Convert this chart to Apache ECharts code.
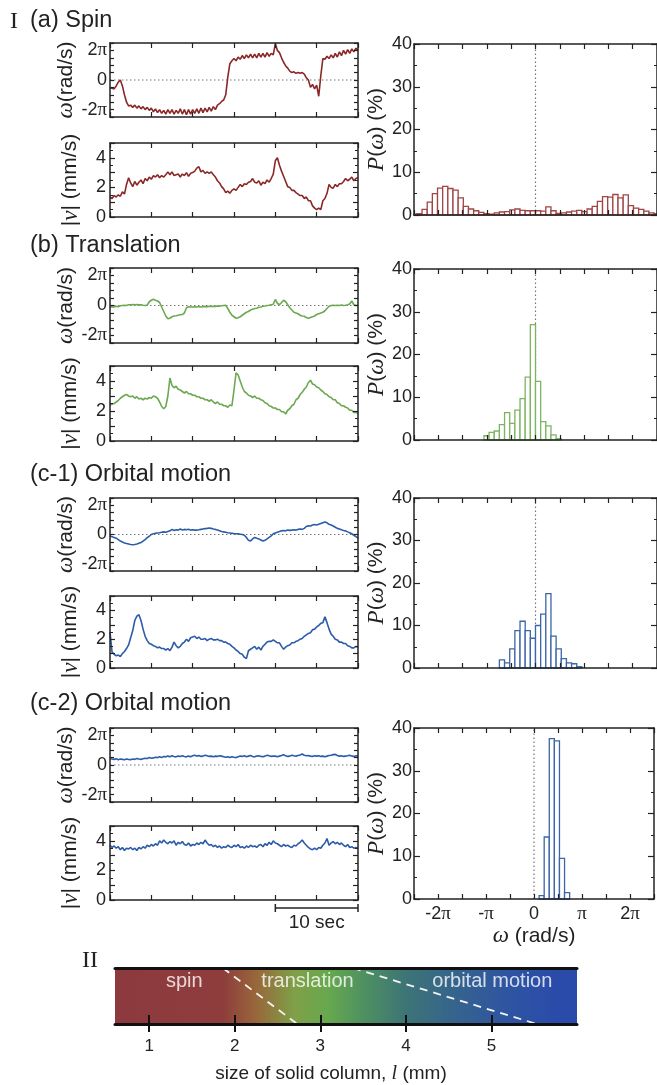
<!DOCTYPE html>
<html><head><meta charset="utf-8">
<script src="https://cdn.jsdelivr.net/npm/echarts@6/dist/echarts.min.js"></script>
<style>html,body{margin:0;padding:0;background:#fff}#c{width:657px;height:1085px}</style>
</head><body><div id="c"></div>
<script>
// ---------------- DATA ----------------
const DT = 0.25; // sampling step of the time traces (s)
// angular velocity traces, in units of pi rad/s
const spinOmega = [
 -0.53,-0.55,-0.6,-0.4,-0.15,0.0,-0.4,-1.0,-1.5,-1.75,
 -1.7,-1.85,-1.7,-1.9,-1.75,-1.95,-1.8,-2.0,-1.85,-2.05,
 -1.9,-2.15,-1.95,-2.2,-2.0,-2.25,-2.05,-2.3,-2.0,-2.25,
 -2.0,-2.3,-2.05,-2.25,-1.95,-2.3,-2.0,-2.35,-2.0,-2.3,
 -2.0,-2.25,-1.95,-2.25,-1.9,-2.2,-1.9,-2.15,-1.85,-2.1,
 -1.8,-2.0,-1.7,-1.6,-1.45,-1.35,-1.0,0.2,1.1,1.3,
 1.45,1.3,1.55,1.4,1.65,1.45,1.7,1.5,1.75,1.5,
 1.75,1.5,1.8,1.55,1.8,1.55,1.85,1.6,1.8,1.7,
 2.45,2.0,1.85,1.5,1.2,0.95,0.8,0.6,0.5,0.55,
 0.45,0.5,0.45,0.5,0.4,0.15,0.0,-0.5,-0.3,-0.6,
 -0.35,-1.1,0.3,1.45,1.4,1.6,1.45,1.7,1.5,1.8,
 1.55,1.9,1.65,2.0,1.75,2.05,1.8,2.1,1.9,2.15,
 2.0];
const spinSpeed = [
 1.35,1.25,1.45,1.35,1.5,1.4,1.7,1.55,2.2,2.65,
 2.3,2.05,2.4,2.15,2.35,2.5,2.25,2.6,2.45,2.7,
 2.55,2.8,2.7,2.85,2.65,2.8,2.7,2.85,3.05,2.85,
 3.05,2.8,2.85,2.9,2.7,2.9,2.8,3.0,2.75,2.95,
 3.0,3.1,3.3,3.4,3.05,3.15,2.95,3.05,2.95,3.05,
 2.85,2.7,2.45,2.3,2.05,1.9,1.65,1.75,1.6,1.8,
 1.9,1.8,2.0,2.2,2.05,2.25,2.2,2.35,2.4,2.6,
 2.35,2.3,2.45,2.15,2.35,2.25,2.5,2.35,2.6,2.9,
 3.8,4.0,3.5,3.1,2.75,2.4,2.05,2.0,1.8,1.8,
 1.65,1.55,1.45,1.45,1.25,1.35,1.1,1.1,0.75,0.6,
 0.5,0.6,0.5,1.1,1.25,1.6,2.2,2.0,1.95,2.2,
 2.05,2.25,2.25,2.4,2.6,2.45,2.55,2.7,2.45,2.6,
 2.65];
const translationOmega = [
 -0.1,-0.08,-0.1,-0.05,-0.08,-0.02,0.0,0.02,0.0,0.05,
 0.05,0.07,0.05,0.06,0.04,0.05,0.02,0.0,0.03,0.25,
 0.35,0.42,0.35,0.3,0.2,-0.1,-0.4,-0.7,-0.88,-0.85,
 -0.75,-0.7,-0.68,-0.65,-0.62,-0.6,-0.5,-0.15,-0.08,-0.1,
 -0.1,-0.08,-0.1,-0.07,-0.1,-0.08,-0.06,-0.09,-0.05,-0.07,
 -0.05,-0.06,-0.04,-0.05,-0.02,0.0,0.02,-0.2,-0.45,-0.65,
 -0.75,-0.85,-0.82,-0.75,-0.65,-0.55,-0.45,-0.4,-0.3,-0.25,
 -0.2,-0.18,-0.12,-0.1,-0.05,-0.03,0.0,0.02,0.05,0.08,
 0.4,0.15,0.05,0.2,0.35,0.25,0.05,-0.15,-0.3,-0.45,
 -0.5,-0.55,-0.65,-0.7,-0.72,-0.8,-0.85,-0.8,-0.75,-0.7,
 -0.6,-0.55,-0.5,-0.45,-0.35,-0.2,-0.05,0.0,0.02,0.0,
 0.02,0.0,0.03,0.0,0.02,0.05,0.1,0.3,0.05,0.0,
 0.02];
const translationSpeed = [
 2.4,2.45,2.5,2.6,2.7,2.85,2.95,3.05,3.1,3.0,
 2.95,3.0,2.85,2.95,2.8,2.85,2.75,2.85,2.8,2.9,
 2.85,3.0,2.95,2.85,2.6,2.3,2.15,2.3,3.0,4.2,
 3.7,3.55,3.65,3.45,3.4,3.3,3.2,3.3,3.15,3.15,
 3.05,3.05,2.95,2.95,2.85,2.85,2.75,2.75,2.65,2.75,
 2.6,2.5,2.6,2.45,2.45,2.35,2.35,2.25,2.4,2.35,
 3.4,4.55,4.4,4.0,3.6,3.3,3.2,3.05,3.0,2.9,
 3.0,2.85,2.85,2.75,2.7,2.55,2.5,2.35,2.3,2.2,
 2.2,2.1,2.1,1.95,1.95,1.8,2.05,2.15,2.35,2.45,
 2.75,2.85,3.1,3.25,3.45,3.6,3.9,4.05,3.8,3.75,
 3.6,3.55,3.4,3.3,3.15,3.1,2.95,2.9,2.75,2.75,
 2.55,2.5,2.35,2.35,2.25,2.2,2.05,2.05,1.9,1.9,
 1.85];
const orbital1Omega = [
 -0.1,-0.15,-0.2,-0.25,-0.35,-0.45,-0.52,-0.58,-0.62,-0.65,
 -0.68,-0.7,-0.68,-0.65,-0.6,-0.55,-0.45,-0.35,-0.22,-0.12,
 0.0,0.05,0.08,0.1,0.12,0.15,0.18,0.15,0.2,0.25,
 0.35,0.28,0.32,0.3,0.38,0.3,0.35,0.32,0.36,0.3,
 0.32,0.3,0.3,0.32,0.35,0.38,0.4,0.42,0.45,0.42,
 0.38,0.35,0.3,0.25,0.2,0.18,0.15,0.12,0.1,0.08,
 0.06,0.05,0.04,0.02,0.0,-0.05,-0.2,-0.4,-0.45,-0.3,
 -0.2,-0.25,-0.3,-0.38,-0.45,-0.4,-0.3,-0.2,-0.1,0.05,
 0.1,0.15,0.2,0.25,0.28,0.25,0.3,0.28,0.3,0.32,
 0.3,0.35,0.38,0.35,0.42,0.55,0.6,0.58,0.65,0.68,
 0.65,0.7,0.75,0.8,0.85,0.8,0.7,0.65,0.58,0.5,
 0.42,0.38,0.32,0.28,0.25,0.18,0.12,0.05,-0.05,-0.15,
 -0.25];
const orbital1Speed = [
 2.5,1.1,0.95,0.85,0.9,0.8,1.0,1.15,1.35,1.6,
 2.1,2.6,3.3,3.6,3.7,3.3,2.7,2.2,1.9,1.7,
 1.65,1.55,1.5,1.4,1.45,1.35,1.35,1.25,1.35,1.2,
 1.45,1.8,1.55,1.4,1.5,1.7,1.8,2.0,1.85,2.1,
 2.15,2.2,2.05,2.15,2.0,2.0,2.05,1.9,2.0,2.05,
 1.95,1.95,2.0,1.9,1.9,1.8,1.8,1.7,1.65,1.5,
 1.4,1.25,1.15,1.0,0.95,0.75,0.65,1.2,1.3,1.4,
 1.5,1.3,1.45,1.25,1.5,1.65,1.8,1.85,1.85,1.95,
 1.85,1.75,1.75,1.5,1.3,1.45,1.55,1.6,1.75,1.75,
 1.85,1.9,2.0,2.05,2.2,2.3,2.4,2.45,2.65,2.7,
 2.85,2.95,3.1,3.15,3.55,3.15,2.7,2.35,2.2,2.0,
 1.95,1.8,1.8,1.7,1.7,1.55,1.5,1.4,1.4,1.5,
 1.45];
const orbital2Omega = [
 0.42,0.4,0.38,0.42,0.36,0.4,0.38,0.35,0.4,0.37,
 0.36,0.4,0.38,0.44,0.4,0.38,0.42,0.46,0.44,0.5,
 0.46,0.48,0.52,0.5,0.55,0.5,0.58,0.55,0.6,0.56,
 0.62,0.58,0.55,0.6,0.57,0.62,0.58,0.55,0.6,0.56,
 0.62,0.66,0.6,0.64,0.58,0.6,0.66,0.62,0.58,0.6,
 0.56,0.6,0.58,0.62,0.6,0.56,0.52,0.55,0.5,0.56,
 0.52,0.5,0.55,0.6,0.58,0.62,0.56,0.6,0.64,0.58,
 0.55,0.6,0.62,0.58,0.56,0.6,0.66,0.62,0.58,0.6,
 0.6,0.56,0.6,0.64,0.7,0.62,0.58,0.6,0.66,0.62,
 0.6,0.64,0.68,0.74,0.66,0.62,0.64,0.6,0.58,0.62,
 0.6,0.62,0.58,0.6,0.56,0.6,0.64,0.66,0.7,0.72,
 0.64,0.6,0.62,0.58,0.6,0.62,0.66,0.6,0.58,0.62,
 0.6];
const orbital2Speed = [
 3.7,3.55,3.65,3.5,3.6,3.4,3.55,3.35,3.5,3.45,
 3.55,3.4,3.5,3.35,3.55,3.45,3.6,3.5,3.7,3.6,
 3.75,3.65,3.8,3.7,4.0,3.85,4.05,3.9,3.8,3.95,
 3.85,4.0,3.7,3.9,3.8,3.95,3.75,3.7,3.85,3.65,
 3.75,3.7,3.85,3.75,3.9,3.8,4.05,3.85,3.7,3.75,
 3.6,3.7,3.55,3.65,3.5,3.6,3.55,3.7,3.6,3.55,
 3.7,3.6,3.75,3.55,3.6,3.5,3.65,3.55,3.7,3.6,
 3.65,3.55,3.7,3.75,3.6,3.8,3.7,3.9,3.75,4.0,
 3.85,3.8,3.7,3.6,3.75,3.65,3.7,3.6,3.55,3.7,
 3.65,3.8,3.9,4.05,3.85,3.7,3.55,3.45,3.4,3.5,
 3.4,3.55,3.5,3.7,3.85,4.15,3.7,3.85,3.95,3.8,
 3.9,3.75,3.85,3.7,3.6,3.75,3.55,3.6,3.5,3.55,
 3.5];
// histograms P(omega) in %, bins of width HIST_BIN rad/s; first bin index (k -> [k*HIST_BIN,(k+1)*HIST_BIN])
const HIST_BIN = 1/3;
const histSpinStart = -24;
const histSpin = [0.2,0.3,1.3,3.0,5.0,6.3,6.7,6.2,5.8,4.0,2.0,1.4,1.0,0.6,0.3,0.2,0.5,0.7,0.8,1.2,1.4,1.1,1.0,1.0,
                  1.0,0.9,1.9,1.0,0.4,0.5,0.7,0.9,1.1,0.8,1.4,2.0,3.2,4.3,4.2,4.8,4.0,4.7,2.2,1.6,1.3,0.9,0.5,0.3];
const histTranslationStart = -10;
const histTranslation = [1.0,1.8,2.1,3.6,6.4,3.9,7.0,9.7,14.7,27.0,13.7,4.3,3.3,1.2,0.3];
const histOrbital1Start = -7;
const histOrbital1 = [1.9,1.2,4.5,8.8,11.0,8.8,7.0,10.0,12.7,17.5,7.5,4.5,2.2,1.2,1.0,0.3];
const histOrbital2Start = 1;
const histOrbital2 = [0.8,14.5,37.5,37.0,9.5,1.5];
// phase diagram (II)
const sizeTicks = [1,2,3,4,5];
const sizeRange = [0.6, 6.0];
const phaseColorStops = [[0.6,'#8C3A3E'],[1.85,'#8E3C3C'],[2.25,'#98673A'],[2.7,'#7FA048'],[3.1,'#66A84E'],[3.5,'#4F9160'],[4.0,'#3D7476'],[4.6,'#35638E'],[5.2,'#2E54A2'],[5.8,'#2A4BAA'],[6.0,'#2A4BAA']];
const phaseBoundaries = [[[1.86,1],[2.73,0]], [[3.38,1],[5.53,0]]];
const phaseLabels = [['spin',1.41,0.76],['translation',2.85,0.76],['orbital motion',5.01,0.76]];
const SCALE_BAR = [20, 30]; // 10 sec
const sectionTitles = ['(a) Spin','(b) Translation','(c-1) Orbital motion','(c-2) Orbital motion'];

// ---------------- LAYOUT / STYLE ----------------
const SANS = '"Liberation Sans", Arial, sans-serif';
const SERIF = '"Liberation Serif", "Times New Roman", serif';
const INK = '#222';
const rows = [
  {w:[43,74], v:[143,74], h:[44,171], ty:21},
  {w:[268,75], v:[366,75], h:[269,171], ty:246},
  {w:[498,73], v:[596,72], h:[498,170], ty:475},
  {w:[728,74], v:[826,74], h:[728,171], ty:704}
];
const sets = [
  {omega:spinOmega, speed:spinSpeed, hist:histSpin, start:histSpinStart, line:'#8A2828', bar:'#A04444'},
  {omega:translationOmega, speed:translationSpeed, hist:histTranslation, start:histTranslationStart, line:'#6DA852', bar:'#7DB462'},
  {omega:orbital1Omega, speed:orbital1Speed, hist:histOrbital1, start:histOrbital1Start, line:'#2C5CA8', bar:'#3D66A8'},
  {omega:orbital2Omega, speed:orbital2Speed, hist:histOrbital2, start:histOrbital2Start, line:'#2C5CA8', bar:'#3D66A8'}
];
const LEFT = {left:110, width:248}, HIST = {left:414, width:244};

const grid=[], xAxis=[], yAxis=[], series=[];
const piRich = {n:{fontFamily:SANS,fontSize:18,color:INK}, p:{fontFamily:SERIF,fontSize:19,color:INK}};
function piLabel(v){
  if (Math.abs(v) < 1e-9) return '{n|0}';
  const a = Math.abs(v), s = v < 0 ? '-' : '';
  return '{n|' + s + (Math.abs(a-1)<1e-9 ? '' : Math.round(a)) + '}{p|π}';
}
function axisBase(o){
  return Object.assign({
    type:'value', z:5,
    axisLine:{show:true, onZero:false, lineStyle:{color:INK, width:1.5}},
    axisTick:{show:true, inside:true, length:5, lineStyle:{color:INK, width:1.2}},
    axisLabel:{show:false}, splitLine:{show:false}
  }, o);
}
function addPanel(rect, xo, yo, xLab, yLab, yName){
  const gi = grid.length;
  grid.push(Object.assign({show:false}, rect));
  const xi = xAxis.length, yi = yAxis.length;
  const xm = axisBase(Object.assign({gridIndex:gi, position:'bottom'}, xo));
  if (xLab) Object.assign(xm, xLab);
  xAxis.push(xm);
  xAxis.push(axisBase(Object.assign({gridIndex:gi, position:'top'}, xo)));
  const ym = axisBase(Object.assign({gridIndex:gi, position:'left'}, yo));
  if (yLab) ym.axisLabel = yLab;
  if (yName) Object.assign(ym, yName);
  yAxis.push(ym);
  yAxis.push(axisBase(Object.assign({gridIndex:gi, position:'right'}, yo)));
  return {xi, yi};
}
const timeAxis = {min:0, max:30, interval:5};
const omegaAxis = {min:-2.5, max:2.5, interval:0.5, axisTick:{show:true, inside:true, length:4, lineStyle:{color:INK,width:1.2}}};
const speedAxis = {min:0, max:5, interval:1, minorTick:{show:true, splitNumber:2, length:3, lineStyle:{color:INK,width:1}}};
const histXAxis = {min:-2.5, max:2.5, interval:0.5};
const histYAxis = {min:0, max:40, interval:10, axisTick:{show:true, inside:true, length:6, lineStyle:{color:INK,width:1.2}}, minorTick:{show:true, splitNumber:2, length:3, lineStyle:{color:INK,width:1}}};

const omegaLabel = {show:true, margin:3, color:INK, fontFamily:SANS, fontSize:18, rich:piRich,
  formatter:v => (Math.abs(v-2)<1e-9||Math.abs(v)<1e-9||Math.abs(v+2)<1e-9) ? piLabel(v) : ''};
const speedLabel = {show:true, margin:4, color:INK, fontFamily:SANS, fontSize:18,
  formatter:v => (Math.round(v) % 2 === 0) ? String(Math.round(v)) : ''};
const histYLabel = {show:true, margin:2, color:INK, fontFamily:SANS, fontSize:18};
const nameRichStyle = {w:{fontFamily:SERIF, fontStyle:'italic', fontSize:23, color:INK}, t:{fontFamily:SANS, fontSize:21, color:INK}};
const omegaName = {name:'{w|ω}{t|(rad/s)}', nameLocation:'middle', nameRotate:90, nameGap:28, nameTextStyle:{rich:nameRichStyle}};
const speedName = {name:'{t||}{w|v}{t|| (mm/s)}', nameLocation:'middle', nameRotate:90, nameGap:28, nameTextStyle:{rich:nameRichStyle}};
const histName = {name:'{w|P}{t|(}{w|ω}{t|) (%)}', nameLocation:'middle', nameRotate:90, nameGap:25, nameTextStyle:{rich:nameRichStyle}};

const zeroLine = (xi, yi, pts) => ({type:'line', xAxisIndex:xi, yAxisIndex:yi, data:pts, symbol:'none', silent:true, z:1,
  lineStyle:{color:'#777', width:1.2, type:[1.5,2.5]}});

let scaleAxis = 0;
rows.forEach((r, i) => {
  const s = sets[i];
  const a = addPanel(Object.assign({top:r.w[0], height:r.w[1]}, LEFT), timeAxis, omegaAxis, null, omegaLabel, omegaName);
  series.push(zeroLine(a.xi, a.yi, [[0,0],[30,0]]));
  series.push({type:'line', xAxisIndex:a.xi, yAxisIndex:a.yi, data:s.omega.map((v,k)=>[k*DT, v]), symbol:'none',
    lineStyle:{color:s.line, width:1.6}, z:3, silent:true});
  const b = addPanel(Object.assign({top:r.v[0], height:r.v[1]}, LEFT), timeAxis, speedAxis, null, speedLabel, speedName);
  series.push({type:'line', xAxisIndex:b.xi, yAxisIndex:b.yi, data:s.speed.map((v,k)=>[k*DT, v]), symbol:'none',
    lineStyle:{color:s.line, width:1.6}, z:3, silent:true});
  if (i === 3) scaleAxis = b.xi;
  const last = i === 3;
  const xLab = last ? {axisLabel:{show:true, margin:6, color:INK, fontFamily:SANS, fontSize:18, rich:piRich,
      formatter:v => Math.abs(v - Math.round(v))<1e-9 ? piLabel(v) : ''},
      name:'{w|ω}{t| (rad/s)}', nameLocation:'middle', nameGap:19, nameTextStyle:{rich:nameRichStyle}} : null;
  const h = addPanel(Object.assign({top:r.h[0], height:r.h[1]}, HIST), histXAxis, histYAxis, xLab, histYLabel, histName);
  series.push(zeroLine(h.xi, h.yi, [[0,0],[0,40]]));
  const color = s.bar;
  series.push({type:'custom', xAxisIndex:h.xi, yAxisIndex:h.yi, z:3, silent:true,
    data:s.hist.map((v,k)=>[(s.start+k)*HIST_BIN/Math.PI, (s.start+k+1)*HIST_BIN/Math.PI, v]),
    renderItem:(params, api) => {
      const p0 = api.coord([api.value(0), api.value(2)]);
      const p1 = api.coord([api.value(1), 0]);
      const cs = params.coordSys;
      const xa = Math.max(p0[0], cs.x), xb = Math.min(p1[0], cs.x + cs.width);
      if (xb <= xa) return null;
      return {type:'rect', shape:{x:xa, y:p0[1], width:xb-xa, height:p1[1]-p0[1]},
        style:{fill:'#fff', stroke:color, lineWidth:1.3}};
    }});
});

// ---- phase diagram (II) ----
const pg = grid.length;
grid.push({show:false, left:115, top:968, width:462, height:59});
const pxMain = xAxis.length;
const span = sizeRange[1]-sizeRange[0];
xAxis.push({gridIndex:pg, type:'value', position:'bottom', min:sizeRange[0], max:sizeRange[1], z:10,
  axisLine:{show:true, onZero:false, lineStyle:{color:'#111', width:3}},
  axisTick:{show:true, inside:false, length:8, customValues:sizeTicks, lineStyle:{color:'#111', width:2}},
  axisLabel:{show:true, customValues:sizeTicks, margin:14, color:INK, fontFamily:SANS, fontSize:17},
  splitLine:{show:false},
  name:'{t|size of solid column, }{w|l}{t| (mm)}', nameLocation:'middle', nameGap:40,
  nameTextStyle:{padding:[0,30,0,0], rich:{w:{fontFamily:SERIF, fontStyle:'italic', fontSize:20, color:INK}, t:{fontFamily:SANS, fontSize:19, color:INK}}}});
xAxis.push({gridIndex:pg, type:'value', position:'bottom', min:sizeRange[0], max:sizeRange[1], z:10,
  axisLine:{show:false}, axisTick:{show:true, inside:true, length:9, customValues:sizeTicks, lineStyle:{color:'#111', width:2}},
  axisLabel:{show:false}, splitLine:{show:false}});
xAxis.push({gridIndex:pg, type:'value', position:'top', min:sizeRange[0], max:sizeRange[1], z:10,
  axisLine:{show:true, onZero:false, lineStyle:{color:'#111', width:3}}, axisTick:{show:false}, axisLabel:{show:false}, splitLine:{show:false}});
const pyi = yAxis.length;
yAxis.push({gridIndex:pg, type:'value', min:0, max:1, show:false});
const stops = phaseColorStops.map(([mm, c]) => ({offset:(mm-sizeRange[0])/span, color:c}));
series.push({type:'custom', xAxisIndex:pxMain, yAxisIndex:pyi, z:1, silent:true, data:[[sizeRange[0], sizeRange[1]]],
  renderItem:(params, api) => {
    const p0 = api.coord([api.value(0), 1]), p1 = api.coord([api.value(1), 0]);
    return {type:'rect', shape:{x:p0[0], y:p0[1], width:p1[0]-p0[0], height:p1[1]-p0[1]},
      style:{fill:new echarts.graphic.LinearGradient(0,0,1,0,stops)}};
  }});
phaseBoundaries.forEach(pts => series.push({type:'line', xAxisIndex:pxMain, yAxisIndex:pyi, data:pts, symbol:'none', silent:true, z:3,
  lineStyle:{color:'#f4f4f4', width:1.8, type:[8,6]}}));
series.push({type:'scatter', xAxisIndex:pxMain, yAxisIndex:pyi, symbolSize:0, silent:true, z:4,
  data:phaseLabels.map(([n,x,y]) => ({name:n, value:[x,y]})),
  label:{show:true, position:'inside', formatter:p => p.name, color:'#fff', fontFamily:SANS, fontSize:20}});

// ---- titles ----
const graphic = [];
graphic.push({type:'text', left:10, top:10, style:{text:'I', font:'24px ' + SERIF, fill:INK}});
graphic.push({type:'text', left:82, top:949, style:{text:'II', font:'24px ' + SERIF, fill:INK}});
rows.forEach((r,i) => graphic.push({type:'text', x:30, y:r.ty, style:{text:sectionTitles[i], font:'23.5px ' + SANS, fill:INK, verticalAlign:'middle'}}));

const chart = echarts.init(document.getElementById('c'));
chart.setOption({animation:false, backgroundColor:'#fff', grid, xAxis, yAxis, series, graphic});

// scale bar placed through the time axis of the last speed panel
const xa = chart.convertToPixel({xAxisIndex:scaleAxis}, SCALE_BAR[0]);
const xb = chart.convertToPixel({xAxisIndex:scaleAxis}, SCALE_BAR[1]);
const yb = 908;
graphic.push({type:'line', shape:{x1:xa, y1:yb, x2:xb, y2:yb}, style:{stroke:INK, lineWidth:1.5}});
graphic.push({type:'line', shape:{x1:xa, y1:yb-4, x2:xa, y2:yb+4}, style:{stroke:INK, lineWidth:1.5}});
graphic.push({type:'line', shape:{x1:xb, y1:yb-4, x2:xb, y2:yb+4}, style:{stroke:INK, lineWidth:1.5}});
graphic.push({type:'text', x:(xa+xb)/2, y:yb+15, style:{text:'10 sec', font:'19px ' + SANS, fill:INK, align:'center', verticalAlign:'middle'}});
chart.setOption({graphic});
</script></body></html>
